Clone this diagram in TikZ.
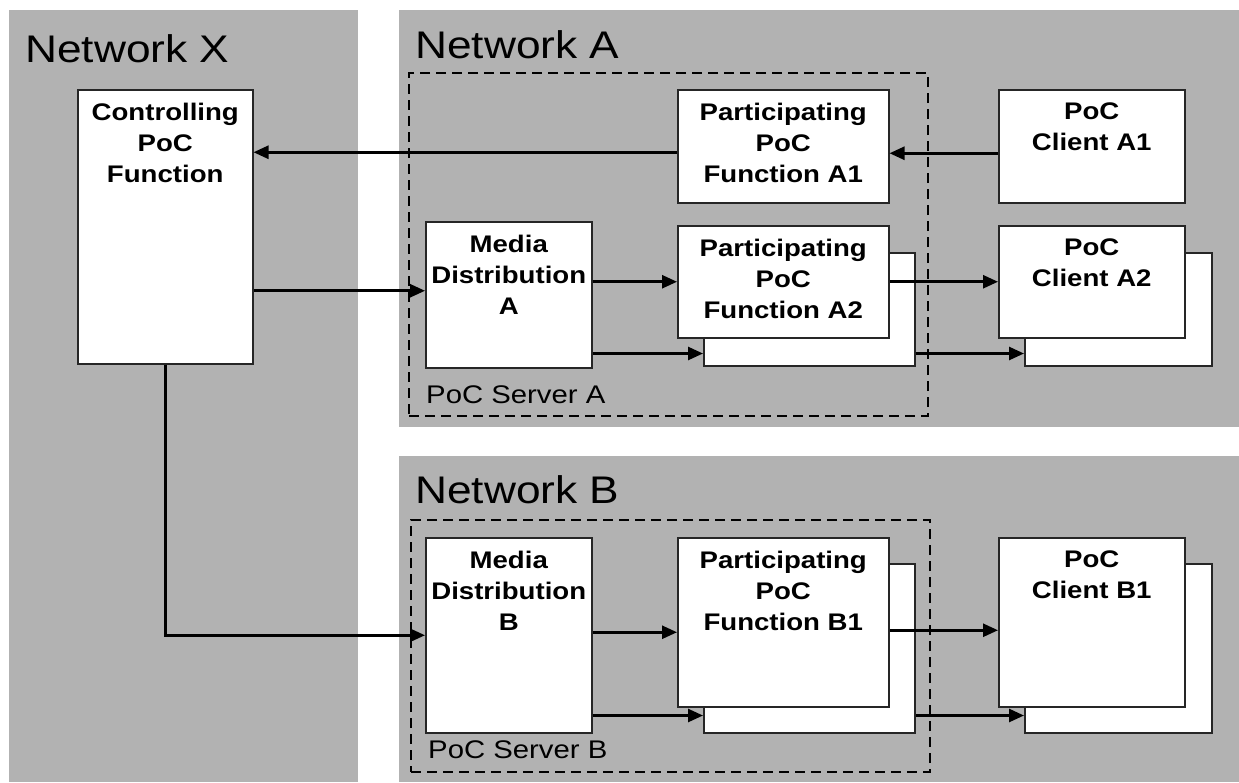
\documentclass[tikz,border=0pt]{standalone}
\usepackage{fontspec}
\setmainfont{Liberation Sans}[FakeStretch=1.15]
\usetikzlibrary{arrows.meta}
\definecolor{netgray}{RGB}{178,178,178}

\begin{document}
\begin{tikzpicture}
  [x=1pt,y=-1pt,
   panel/.style={fill=netgray,anchor=north west,inner sep=0},
   title/.style={anchor=base west,inner sep=0,font=\fontsize{38.5}{40}\selectfont},
   server/.style={draw=black,line width=2.3pt,dash pattern=on 10pt off 6pt,anchor=north west,inner sep=0},
   srvtext/.style={anchor=base west,inner sep=0,font=\fontsize{25.5}{28}\selectfont},
   box/.style={draw=black!85,line width=1.5pt,fill=white,anchor=north west,inner sep=0},
   boxtext/.style={anchor=north,align=center,inner sep=0,yshift=-14pt,font=\bfseries\fontsize{24}{31}\selectfont},
   conn/.style={line width=2.6pt,-{Triangle[length=15pt,width=13pt]}}]

  \useasboundingbox (0,0) rectangle (1239,782);

  % networks
  \node[panel,minimum width=349,minimum height=772] (NX) at (9,10) {};
  \node[panel,minimum width=840,minimum height=417] (NA) at (399,10) {};
  \node[panel,minimum width=840,minimum height=326] (NB) at (399,456) {};
  \node[title] (NXt) at (25,62) {Network X};
  \node[title] (NAt) at (415,58) {Network A};
  \node[title] (NBt) at (415,503) {Network B};

  % servers
  \node[server,minimum width=519,minimum height=343] (SA) at (408,72) {};
  \node[server,minimum width=519,minimum height=252] (SB) at (410,519) {};
  \node[srvtext] (SAt) at (426,403) {PoC Server A};
  \node[srvtext] (SBt) at (428,758) {PoC Server B};

  % stacked copies
  \foreach \n/\x/\y/\w/\h in {PA2b/703/252/211/113, CA2b/1024/252/187/113,
                              PB1b/703/563/211/169, CB1b/1024/563/187/169}
    \node[box,minimum width=\w,minimum height=\h] (\n) at (\x,\y) {};

  \node[box,minimum width=175,minimum height=274,
        label={[boxtext]north:{Controlling\\PoC\\Function}}] (CPF) at (77,89) {};
  \node[box,minimum width=211,minimum height=113,
        label={[boxtext]north:{Participating\\PoC\\Function A1}}] (PA1) at (677,89) {};
  \node[box,minimum width=186,minimum height=113,
        label={[boxtext]north:{PoC\\Client A1}}] (CA1) at (998,89) {};
  \node[box,minimum width=166,minimum height=146,
        label={[boxtext]north:{Media\\Distribution\\A}}] (MDA) at (425,221) {};
  \node[box,minimum width=211,minimum height=112,
        label={[boxtext]north:{Participating\\PoC\\Function A2}}] (PA2) at (677,225) {};
  \node[box,minimum width=186,minimum height=112,
        label={[boxtext]north:{PoC\\Client A2}}] (CA2) at (998,225) {};
  \node[box,minimum width=166,minimum height=195,
        label={[boxtext]north:{Media\\Distribution\\B}}] (MDB) at (425,537) {};
  \node[box,minimum width=211,minimum height=169,
        label={[boxtext]north:{Participating\\PoC\\Function B1}}] (PB1) at (677,537) {};
  \node[box,minimum width=186,minimum height=169,
        label={[boxtext]north:{PoC\\Client B1}}] (CB1) at (998,537) {};

  % connectors
  \draw[conn] ([yshift=-6pt]PA1.west) coordinate (a) -- (a -| CPF.east);
  \draw[conn] ([yshift=-7pt]CA1.west) coordinate (b) -- (b -| PA1.east);
  \path ([yshift=4pt]MDA.west) coordinate (c);
  \draw[conn] (c -| CPF.east) -- (c);
  \draw[conn] (MDA.east |- PA2.west) -- (PA2.west);
  \draw[conn] (PA2.east) -- (CA2.west);
  \path ([yshift=13pt]PA2b.south west) coordinate (d);
  \draw[conn] (d -| MDA.east) -- (d);
  \draw[conn] ([yshift=13pt]PA2b.south east) -- ([yshift=13pt]CA2b.south west);
  \draw[conn] (CPF.south) |- (MDB.west);
  \path ([yshift=-10pt]PB1.west) coordinate (e);
  \draw[conn] (e -| MDB.east) -- (e);
  \draw[conn] ([yshift=-8pt]PB1.east) coordinate (f) -- (f -| CB1.west);
  \path ([yshift=18pt]PB1b.south west) coordinate (g);
  \draw[conn] (g -| MDB.east) -- (g);
  \draw[conn] ([yshift=18pt]PB1b.south east) -- ([yshift=18pt]CB1b.south west);

\end{tikzpicture}
\end{document}
